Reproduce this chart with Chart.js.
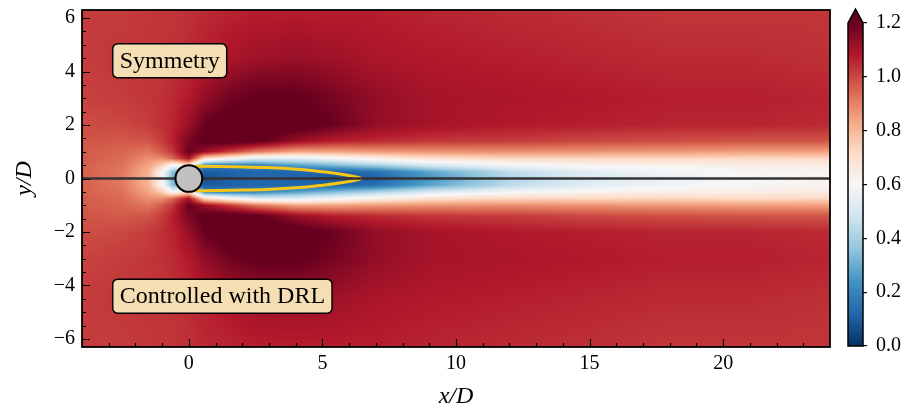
<!DOCTYPE html>
<html>
<head>
<meta charset="utf-8">
<script src="https://cdn.jsdelivr.net/npm/chart.js@4.4.1/dist/chart.umd.min.js"></script>
<style>
  body { margin: 0; background: #fff; }
  #wrap { position: relative; width: 916px; height: 408px; }
  #field { position: absolute; left: 0; top: 0; }
  #cbar { position: absolute; left: 840px; top: 0; }
</style>
</head>
<body>
<div id="wrap">
  <canvas id="field" width="916" height="408"></canvas>
  <canvas id="cbar" width="76" height="408"></canvas>
</div>
<script>
// grid nodes of the velocity magnitude field, in x/D and y/D
const xNodes = [-4, -2.5, -1.5, -1, -0.6, 0, 0.6, 1.5, 2.5, 4, 5.5, 7, 9, 12, 15, 18, 21, 24];
const yNodes = [6.3, 4.5, 3, 2, 1.4, 1, 0.75, 0.5, 0.25, 0, -0.25, -0.5, -0.75, -1, -1.4, -2, -3, -4.5, -6.3];

// |u| / U on the nodes, one row per yNodes entry (top to bottom)
const speed = [
  [1.02, 1.02, 1.03, 1.03, 1.03, 1.04, 1.05, 1.06, 1.07, 1.07, 1.07, 1.07, 1.06, 1.05, 1.04, 1.03, 1.03, 1.03],
  [1.02, 1.03, 1.03, 1.03, 1.04, 1.05, 1.07, 1.09, 1.11, 1.12, 1.11, 1.09, 1.08, 1.07, 1.06, 1.05, 1.05, 1.04],
  [1.01, 1.02, 1.03, 1.04, 1.05, 1.08, 1.13, 1.18, 1.21, 1.21, 1.17, 1.13, 1.10, 1.09, 1.08, 1.07, 1.07, 1.06],
  [0.99, 1.00, 1.02, 1.04, 1.06, 1.12, 1.20, 1.24, 1.26, 1.24, 1.19, 1.13, 1.10, 1.08, 1.07, 1.06, 1.06, 1.05],
  [0.98, 0.97, 0.98, 1.02, 1.07, 1.17, 1.22, 1.24, 1.22, 1.12, 1.07, 1.05, 1.03, 1.02, 1.00, 0.99, 0.98, 0.98],
  [0.97, 0.95, 0.92, 0.97, 1.03, 1.20, 1.12, 1.02, 0.92, 0.84, 0.84, 0.86, 0.87, 0.88, 0.87, 0.86, 0.85, 0.85],
  [0.97, 0.94, 0.88, 0.88, 0.95, 1.10, 0.72, 0.62, 0.52, 0.52, 0.58, 0.64, 0.70, 0.73, 0.73, 0.73, 0.72, 0.73],
  [0.96, 0.93, 0.84, 0.75, 0.60, 0.70, 0.20, 0.18, 0.20, 0.27, 0.34, 0.40, 0.50, 0.58, 0.62, 0.63, 0.64, 0.65],
  [0.96, 0.92, 0.81, 0.62, 0.35, 0.20, 0.10, 0.11, 0.12, 0.12, 0.11, 0.15, 0.28, 0.44, 0.53, 0.58, 0.61, 0.62],
  [0.96, 0.92, 0.80, 0.60, 0.30, 0.10, 0.07, 0.11, 0.13, 0.12, 0.09, 0.11, 0.24, 0.42, 0.51, 0.56, 0.60, 0.62],
  [0.96, 0.92, 0.81, 0.62, 0.35, 0.20, 0.10, 0.11, 0.12, 0.12, 0.11, 0.15, 0.28, 0.44, 0.53, 0.58, 0.61, 0.62],
  [0.96, 0.93, 0.84, 0.75, 0.60, 0.70, 0.20, 0.18, 0.20, 0.27, 0.34, 0.40, 0.50, 0.58, 0.62, 0.63, 0.64, 0.65],
  [0.97, 0.94, 0.88, 0.88, 0.95, 1.10, 0.72, 0.62, 0.52, 0.52, 0.58, 0.64, 0.70, 0.73, 0.73, 0.73, 0.72, 0.73],
  [0.97, 0.95, 0.92, 0.97, 1.03, 1.20, 1.12, 1.02, 0.92, 0.84, 0.84, 0.86, 0.87, 0.88, 0.87, 0.86, 0.85, 0.85],
  [0.98, 0.97, 0.98, 1.02, 1.07, 1.17, 1.22, 1.24, 1.22, 1.12, 1.07, 1.05, 1.03, 1.02, 1.00, 0.99, 0.98, 0.98],
  [0.99, 1.00, 1.02, 1.04, 1.06, 1.12, 1.20, 1.24, 1.26, 1.24, 1.19, 1.13, 1.10, 1.08, 1.07, 1.06, 1.06, 1.05],
  [1.01, 1.02, 1.03, 1.04, 1.05, 1.08, 1.13, 1.18, 1.21, 1.21, 1.17, 1.13, 1.10, 1.09, 1.08, 1.07, 1.07, 1.06],
  [1.02, 1.03, 1.03, 1.03, 1.04, 1.05, 1.07, 1.09, 1.11, 1.12, 1.11, 1.09, 1.08, 1.07, 1.06, 1.05, 1.05, 1.04],
  [1.02, 1.02, 1.03, 1.03, 1.03, 1.04, 1.05, 1.06, 1.07, 1.07, 1.07, 1.07, 1.06, 1.05, 1.04, 1.03, 1.03, 1.03]
];

// recirculation bubble outline (u = 0 contour)
const bubbleX = [0.22, 0.54, 1.66, 2.9, 4.15, 5.02, 5.77, 6.27, 6.46, 6.27, 5.77, 5.02, 4.15, 2.9, 1.66, 0.54, 0.22];
const bubbleY = [0.46, 0.46, 0.44, 0.41, 0.34, 0.25, 0.15, 0.06, 0, -0.06, -0.15, -0.25, -0.34, -0.41, -0.44, -0.46, -0.46];

// symmetry line along the wake axis
const axisX = [-4, 24];
const axisY = [0, 0];

const xTicks = [0, 5, 10, 15, 20];
const yTicks = [-6, -4, -2, 0, 2, 4, 6];
const cbTicks = [0, 0.2, 0.4, 0.6, 0.8, 1.0, 1.2];

const boxLabels = ['Symmetry', 'Controlled with DRL'];
const boxY = [4.4, -4.4];
const boxLeft = -2.85;
const cylinderR = 0.5;

const vmin = 0, vmax = 1.2;
const serif = "'Liberation Serif', 'DejaVu Serif', serif";
Chart.defaults.font.family = serif;
Chart.defaults.color = '#000';

// RdBu_r colour map
const rdbu = ['#053061', '#2166ac', '#4393c3', '#92c5de', '#d1e5f0', '#f7f7f7',
              '#fddbc7', '#f4a582', '#d6604d', '#b2182b', '#67001f']
  .map(h => [1, 3, 5].map(k => parseInt(h.slice(k, k + 2), 16)));

function cmap(v) {
  let t = (v - vmin) / (vmax - vmin);
  t = Math.max(0, Math.min(1, t)) * (rdbu.length - 1);
  const k = Math.min(Math.floor(t), rdbu.length - 2);
  const f = t - k;
  const a = rdbu[k], b = rdbu[k + 1];
  return [a[0] + (b[0] - a[0]) * f, a[1] + (b[1] - a[1]) * f, a[2] + (b[2] - a[2]) * f];
}

const clamp01 = t => Math.max(0, Math.min(1, t));

// shade between grid nodes
function fieldAt(xv, yv) {
  let i = 0;
  while (i < xNodes.length - 2 && xv > xNodes[i + 1]) i++;
  let j = 0;
  while (j < yNodes.length - 2 && yv < yNodes[j + 1]) j++;
  const tx = clamp01((xv - xNodes[i]) / (xNodes[i + 1] - xNodes[i]));
  const ty = clamp01((yv - yNodes[j]) / (yNodes[j + 1] - yNodes[j]));
  const top = speed[j][i] * (1 - tx) + speed[j][i + 1] * tx;
  const bot = speed[j + 1][i] * (1 - tx) + speed[j + 1][i + 1] * tx;
  return top * (1 - ty) + bot * ty;
}

const fieldPlugin = {
  id: 'field',
  beforeDraw(chart) {
    const { ctx, chartArea: a, scales: { x, y } } = chart;
    const x0 = Math.round(a.left), y0 = Math.round(a.top);
    const w = Math.round(a.right) - x0, h = Math.round(a.bottom) - y0;
    const img = ctx.createImageData(w, h);
    for (let py = 0; py < h; py++) {
      const yv = y.getValueForPixel(y0 + py + 0.5);
      for (let px = 0; px < w; px++) {
        const c = cmap(fieldAt(x.getValueForPixel(x0 + px + 0.5), yv));
        const o = (py * w + px) * 4;
        img.data[o] = c[0];
        img.data[o + 1] = c[1];
        img.data[o + 2] = c[2];
        img.data[o + 3] = 255;
      }
    }
    ctx.putImageData(img, x0, y0);
  }
};

// cylinder and the two label boxes
const overlayPlugin = {
  id: 'overlay',
  afterDatasetsDraw(chart) {
    const { ctx, scales: { x, y } } = chart;
    ctx.save();
    const cx = x.getPixelForValue(0), cy = y.getPixelForValue(0);
    const r = x.getPixelForValue(cylinderR) - cx;
    ctx.beginPath();
    ctx.arc(cx, cy, r, 0, Math.PI * 2);
    ctx.fillStyle = '#c0c0c0';
    ctx.fill();
    ctx.lineWidth = 2;
    ctx.strokeStyle = '#000';
    ctx.stroke();

    ctx.font = '24px ' + serif;
    ctx.textBaseline = 'middle';
    boxLabels.forEach((label, k) => {
      const tw = ctx.measureText(label).width;
      const bx = x.getPixelForValue(boxLeft), by = y.getPixelForValue(boxY[k]);
      const bw = tw + 14, bh = 34;
      ctx.beginPath();
      ctx.roundRect(bx, by - bh / 2, bw, bh, 5);
      ctx.fillStyle = '#f5deb3';
      ctx.fill();
      ctx.lineWidth = 1.5;
      ctx.strokeStyle = '#000';
      ctx.stroke();
      ctx.fillStyle = '#000';
      ctx.fillText(label, bx + 7, by + 1);
    });
    ctx.restore();
  }
};

// frame plus inward major/minor ticks
const frameTicks = {
  id: 'frameTicks',
  afterDraw(chart) {
    const { ctx, chartArea: a, scales: { x, y } } = chart;
    ctx.save();
    ctx.strokeStyle = '#000';
    ctx.lineWidth = 1.2;
    ctx.beginPath();
    for (let v = Math.ceil(x.min) + 1; v < x.max; v += 1) {
      const p = Math.round(x.getPixelForValue(v)) + 0.5;
      const len = v % 5 === 0 ? 8 : 4;
      ctx.moveTo(p, a.bottom);
      ctx.lineTo(p, a.bottom - len);
    }
    for (let v = -6; v <= 6; v += 0.5) {
      const p = Math.round(y.getPixelForValue(v)) + 0.5;
      const len = v % 2 === 0 ? 8 : 4;
      ctx.moveTo(a.left, p);
      ctx.lineTo(a.left + len, p);
    }
    ctx.stroke();
    ctx.lineWidth = 1.8;
    ctx.strokeRect(a.left, a.top, a.right - a.left, a.bottom - a.top);
    ctx.restore();
  }
};

const pts = (xs, ys) => xs.map((v, i) => ({ x: v, y: ys[i] }));

new Chart(document.getElementById('field'), {
  type: 'scatter',
  data: {
    datasets: [
      { data: pts(axisX, axisY), showLine: true, borderColor: '#333333', borderWidth: 2.4, pointRadius: 0 },
      { data: pts(bubbleX, bubbleY), showLine: true, borderColor: '#f5c518', borderWidth: 3,
        pointRadius: 0, tension: 0.4 }
    ]
  },
  options: {
    responsive: false,
    animation: false,
    events: [],
    layout: { padding: { left: 0, right: 86, top: 10, bottom: 0 } },
    plugins: { legend: { display: false }, tooltip: { enabled: false } },
    scales: {
      x: {
        type: 'linear', min: -4, max: 24,
        afterBuildTicks: s => { s.ticks = xTicks.map(v => ({ value: v })); },
        afterFit: s => { s.height = 61; s.paddingLeft = 0; s.paddingRight = 0; },
        grid: { display: false, drawTicks: false }, border: { display: false },
        ticks: { padding: 5, maxRotation: 0, font: { size: 20 } },
        title: { display: true, text: 'x/D', font: { size: 24, style: 'italic' }, padding: { top: 0, bottom: -3 } }
      },
      y: {
        type: 'linear', min: -6.3, max: 6.3,
        afterBuildTicks: s => { s.ticks = yTicks.map(v => ({ value: v })); },
        afterFit: s => { s.width = 82; s.paddingTop = 0; s.paddingBottom = 0; },
        grid: { display: false, drawTicks: false }, border: { display: false },
        ticks: { padding: 7, font: { size: 20 }, callback: v => String(v).replace('-', '\u2212') },
        title: { display: true, text: 'y/D', font: { size: 24, style: 'italic' }, padding: { top: 10, bottom: 0 } }
      }
    }
  },
  plugins: [fieldPlugin, overlayPlugin, frameTicks]
});

// colour bar
const colorbarPlugin = {
  id: 'colorbar',
  beforeDraw(chart) {
    const { ctx, chartArea: a, scales: { y } } = chart;
    for (let py = Math.floor(a.top); py < a.bottom; py++) {
      const c = cmap(y.getValueForPixel(py + 0.5));
      ctx.fillStyle = `rgb(${c[0]},${c[1]},${c[2]})`;
      ctx.fillRect(a.left, py, a.right - a.left, 1);
    }
  },
  afterDraw(chart) {
    const { ctx, chartArea: a } = chart;
    const tip = a.top - 14;
    const c = cmap(vmax);
    ctx.save();
    ctx.beginPath();
    ctx.moveTo(a.left, a.top);
    ctx.lineTo((a.left + a.right) / 2, tip);
    ctx.lineTo(a.right, a.top);
    ctx.closePath();
    ctx.fillStyle = `rgb(${c[0]},${c[1]},${c[2]})`;
    ctx.fill();
    ctx.beginPath();
    ctx.moveTo(a.left, a.top);
    ctx.lineTo((a.left + a.right) / 2, tip);
    ctx.lineTo(a.right, a.top);
    ctx.lineTo(a.right, a.bottom);
    ctx.lineTo(a.left, a.bottom);
    ctx.closePath();
    ctx.lineWidth = 1.5;
    ctx.strokeStyle = '#000';
    ctx.stroke();
    ctx.restore();
  }
};

new Chart(document.getElementById('cbar'), {
  type: 'scatter',
  data: { datasets: [] },
  options: {
    responsive: false,
    animation: false,
    events: [],
    layout: { padding: { left: 8, right: 0, top: 23, bottom: 62 } },
    plugins: { legend: { display: false }, tooltip: { enabled: false } },
    scales: {
      x: { display: false, min: 0, max: 1 },
      y: {
        position: 'right', min: vmin, max: vmax,
        afterBuildTicks: s => { s.ticks = cbTicks.map(v => ({ value: v })); },
        afterFit: s => { s.width = 53; },
        grid: { drawOnChartArea: false, drawTicks: true, tickLength: 4, color: '#000', lineWidth: 1.2 },
        border: { display: false },
        ticks: { padding: 9, font: { size: 20 }, callback: v => v.toFixed(1) }
      }
    }
  },
  plugins: [colorbarPlugin]
});
</script>
</body>
</html>
